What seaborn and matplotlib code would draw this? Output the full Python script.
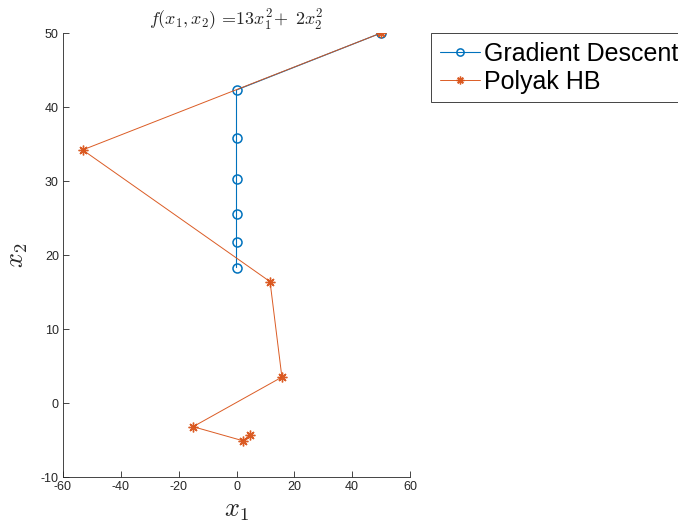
import matplotlib
matplotlib.use("Agg")
import matplotlib.pyplot as plt
import seaborn as sns
import pandas as pd

# Iterates of the two methods on f(x1, x2) = 13 x1^2 + 2 x2^2
gd_x1 = [50, 0, 0, 0, 0, 0, 0]
gd_x2 = [50, 42.3, 35.8, 30.3, 25.6, 21.7, 18.3]

hb_x1 = [50, -53.2, 11.6, 15.7, -15.0, 2.2, 4.7]
hb_x2 = [50, 34.2, 16.4, 3.5, -3.2, -5.1, -4.3]

x_ticks = [-60, -40, -20, 0, 20, 40, 60]
y_ticks = [-10, 0, 10, 20, 30, 40, 50]

blue = "#0072BD"
orange = "#D95319"

sns.set_style("ticks")
plt.rcParams["font.family"] = ["Liberation Sans", "DejaVu Sans"]
plt.rcParams["mathtext.fontset"] = "cm"
plt.rcParams["axes.unicode_minus"] = False

fig = plt.figure(figsize=(6.78, 5.27), dpi=100)
ax = fig.add_axes([63 / 678, 1 - 477 / 527, (410 - 63) / 678, (477 - 33) / 527])

gd = pd.DataFrame({"x1": gd_x1, "x2": gd_x2})
hb = pd.DataFrame({"x1": hb_x1, "x2": hb_x2})

sns.lineplot(data=gd, x="x1", y="x2", sort=False, estimator=None, ax=ax,
             color=blue, lw=0.8, marker="o", markersize=6.5,
             markerfacecolor="none", markeredgecolor=blue, markeredgewidth=1.1,
             label="Gradient Descent")
sns.lineplot(data=hb, x="x1", y="x2", sort=False, estimator=None, ax=ax,
             color=orange, lw=0.7, alpha=0.95, marker=(8, 2, 0), markersize=7,
             markeredgecolor=orange, markeredgewidth=1.0,
             label="Polyak HB")

ax.set_xlim(-60, 60)
ax.set_ylim(-10, 50)
ax.set_xticks(x_ticks)
ax.set_yticks(y_ticks)
ax.tick_params(direction="in", length=4, width=0.6, colors="#262626",
               labelsize=9, pad=3)
for side in ("top", "right"):
    ax.spines[side].set_visible(False)
for side in ("left", "bottom"):
    ax.spines[side].set_linewidth(0.6)
    ax.spines[side].set_color("#262626")

ax.set_title(r"$f(x_1,x_2)\,=\!13x_1^2\!+\;2x_2^2$", fontsize=13, pad=5)
ax.set_xlabel(r"$x_1$", fontsize=19, labelpad=4)
ax.set_ylabel(r"$x_2$", fontsize=19, labelpad=8)

leg = ax.legend(loc="upper left", bbox_to_anchor=(431 / 678, 1 - 33 / 527),
                bbox_transform=fig.transFigure, fontsize=18, frameon=True,
                fancybox=False, edgecolor="#262626", framealpha=1,
                borderpad=0.35, handlelength=1.6, handletextpad=0.15,
                labelspacing=0.15, borderaxespad=0, markerscale=0.8)
leg.get_frame().set_linewidth(0.6)
for t in leg.get_texts():
    t.set_color("black")

fig.savefig("out.png", dpi=100)
